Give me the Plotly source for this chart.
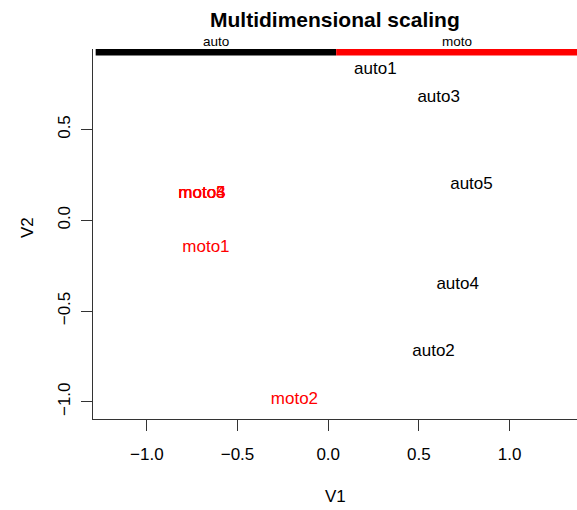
import plotly.graph_objects as go

# Data
labels = ["auto1", "auto2", "auto3", "auto4", "auto5", "moto1", "moto2", "moto3", "moto4", "moto5"]
v1 = [0.260, 0.581, 0.609, 0.714, 0.790, -0.674, -0.186, -0.696, -0.696, -0.696]
v2 = [0.828, -0.724, 0.675, -0.357, 0.194, -0.149, -0.990, 0.149, 0.149, 0.149]
groups = ["auto", "auto", "auto", "auto", "auto", "moto", "moto", "moto", "moto", "moto"]
group_names = ["auto", "moto"]
group_colors = {"auto": "#000000", "moto": "#FF0000"}
group_bounds = [-1.282, 0.044, 1.375]
x_ticks = [-1.0, -0.5, 0.0, 0.5, 1.0]
y_ticks = [-1.0, -0.5, 0.0, 0.5]

FONT = "Liberation Sans, Arial, Helvetica, sans-serif"
W, H = 577, 510
ML, MR, MT, MB = 93, 0, 49, 91

fig = go.Figure()
for g in group_names:
    idx = [i for i, gg in enumerate(groups) if gg == g]
    fig.add_trace(go.Scatter(
        x=[v1[i] for i in idx], y=[v2[i] for i in idx],
        text=[labels[i] for i in idx], mode="text",
        textposition="middle center",
        textfont=dict(family=FONT, size=17, color=group_colors[g]),
        showlegend=False, hoverinfo="text", cliponaxis=False))

ph = H - MT - MB
for k, g in enumerate(group_names):
    x0, x1 = group_bounds[k], group_bounds[k + 1]
    fig.add_shape(type="rect", xref="x", yref="paper", x0=x0, x1=x1,
                  y0=1 - 6.5 / ph, y1=1, fillcolor=group_colors[g], line_width=0)
    fig.add_annotation(x=(x0 + x1) / 2, xref="x", y=1, yref="paper", yshift=8,
                       text=g, showarrow=False, yanchor="middle",
                       font=dict(family=FONT, size=13.5, color="#000000"))

fig.add_annotation(text="<b>Multidimensional scaling</b>", x=0.5, xref="paper",
                   y=1, yref="paper", yshift=29.5, yanchor="middle", showarrow=False,
                   font=dict(family=FONT, size=21, color="#000000"))
fig.add_annotation(text="V1", x=0.5, xref="paper", y=0, yref="paper",
                   yshift=-77, yanchor="middle", showarrow=False,
                   font=dict(family=FONT, size=17, color="#000000"))
fig.add_annotation(text="V2", x=0, xref="paper", y=(H - MB - 228) / ph, yref="paper",
                   xshift=-66, xanchor="center", yanchor="middle", textangle=-90,
                   showarrow=False, font=dict(family=FONT, size=17, color="#000000"))

axis_common = dict(showgrid=False, zeroline=False, showline=True, linecolor="#333333",
                   linewidth=1, ticks="outside", ticklen=11, tickcolor="#333333",
                   tickfont=dict(family=FONT, size=17, color="#000000"),
                   tickformat=".1f")

fig.update_layout(
    width=W, height=H, margin=dict(l=ML, r=MR, t=MT, b=MB, autoexpand=False),
    plot_bgcolor="white", paper_bgcolor="white",
    xaxis=dict(range=[-1.2967, 1.3718], tickvals=x_ticks, ticklabelstandoff=9, **axis_common),
    yaxis=dict(range=[-1.0948, 0.9438], tickvals=y_ticks, tickangle=-90,
               ticklabelstandoff=4, **axis_common),
)

fig.write_html("out.html", config={"displayModeBar": False},
               post_script="document.body.style.margin='0';document.body.style.overflow='hidden';")
